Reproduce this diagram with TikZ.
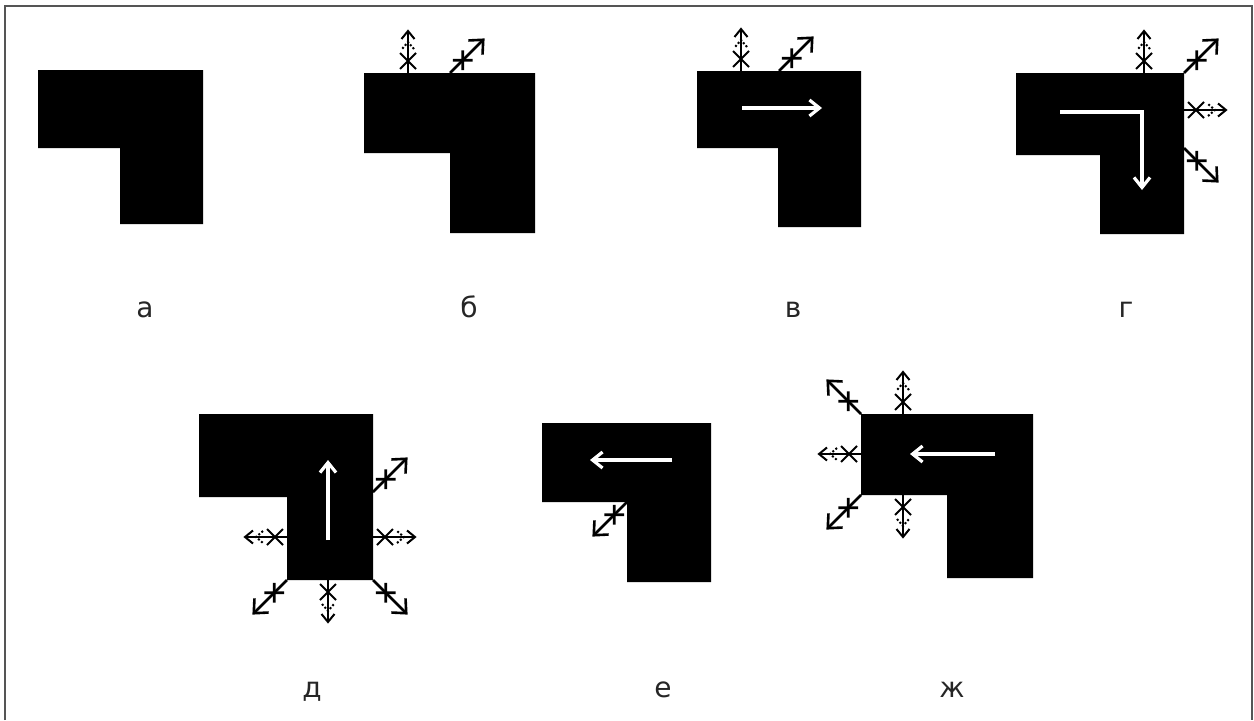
\documentclass[tikz,border=0pt]{standalone}
\usepackage{fontspec}
\setmainfont{DejaVu Sans}
\usetikzlibrary{arrows.meta}
\definecolor{frameGray}{HTML}{555555}

% axis marker: base, angle
\newcommand{\axmark}[2]{%
  \begin{scope}[shift={#1}, rotate=#2]
    \draw[markline] (0,0) -- (42,0);
    \draw[markthin] (4,-8) -- (20,8) (4,8) -- (20,-8);
    \draw[markthin, densely dotted] (24,-6) -- (31,0) -- (24,6);
    \draw[markthin] (34,-6.5) -- (42,0) -- (34,6.5);
  \end{scope}}
% diagonal marker: base, angle
\newcommand{\diagmark}[2]{%
  \begin{scope}[shift={#1}, rotate=#2]
    \draw[markline] (0,0) -- (47,0);
    \draw[markline] (11,-7) -- (25,7) (11,7) -- (25,-7);
    \draw[markline] (36,-10) -- (47,0) -- (36,10);
  \end{scope}}

\tikzset{
  lshape/.style={fill=black},
  markline/.style={line width=1.3pt, black},
  markthin/.style={line width=1pt, black},
  walk/.style={white, line width=1.6pt, -{Straight Barb[length=5pt,width=8pt]}},
  letter/.style={anchor=base, font=\fontsize{14}{16}\selectfont, text=black!85}
}

\begin{document}
\begin{tikzpicture}[x=0.5pt, y=0.5pt]
    \useasboundingbox (0,0) rectangle (1254,720);
    \draw[frameGray, line width=1pt] (5,0) -- (5,714) -- (1252,714) -- (1252,0);

    % a
    \fill[lshape] (38,650) -- (203,650) -- (203,496) -- (120,496) -- (120,572) -- (38,572) -- cycle;
    \node[letter] (lab-a) at (145,403) {а};

    % b
    \fill[lshape] (364,647) -- (535,647) -- (535,487) -- (450,487) -- (450,567) -- (364,567) -- cycle;
    \axmark{(408,647)}{90}
    \diagmark{(450,647)}{45}
    \node[letter] (lab-b) at (469,403) {б};

    % v
    \fill[lshape] (697,649) -- (861,649) -- (861,493) -- (778,493) -- (778,572) -- (697,572) -- cycle;
    \draw[walk] (742,612) -- (822,612);
    \axmark{(741,649)}{90}
    \diagmark{(779,649)}{45}
    \node[letter] (lab-v) at (793,403) {в};

    % g
    \fill[lshape] (1016,647) -- (1184,647) -- (1184,486) -- (1100,486) -- (1100,565) -- (1016,565) -- cycle;
    \draw[walk] (1060,608) -- (1142,608) -- (1142,530);
    \axmark{(1144,647)}{90}
    \diagmark{(1184,647)}{45}
    \axmark{(1184,610)}{0}
    \diagmark{(1184,572)}{-45}
    \node[letter] (lab-g) at (1126,403) {г};

    % d
    \fill[lshape] (199,306) -- (373,306) -- (373,140) -- (287,140) -- (287,223) -- (199,223) -- cycle;
    \draw[walk] (328,180) -- (328,260);
    \diagmark{(373,228)}{45}
    \axmark{(373,183)}{0}
    \axmark{(287,183)}{180}
    \axmark{(328,140)}{-90}
    \diagmark{(287,140)}{-135}
    \diagmark{(373,140)}{-45}
    \node[letter] (lab-d) at (312,23) {д};

    % e
    \fill[lshape] (542,297) -- (711,297) -- (711,138) -- (627,138) -- (627,218) -- (542,218) -- cycle;
    \draw[walk] (672,260) -- (590,260);
    \diagmark{(627,218)}{-135}
    \node[letter] (lab-e) at (663,23) {е};

    % zh
    \fill[lshape] (861,306) -- (1033,306) -- (1033,142) -- (947,142) -- (947,225) -- (861,225) -- cycle;
    \draw[walk] (995,266) -- (910,266);
    \axmark{(903,306)}{90}
    \diagmark{(861,306)}{135}
    \axmark{(861,266)}{180}
    \diagmark{(861,225)}{-135}
    \axmark{(903,225)}{-90}
    \node[letter] (lab-zh) at (952,23) {ж};
\end{tikzpicture}
\end{document}
